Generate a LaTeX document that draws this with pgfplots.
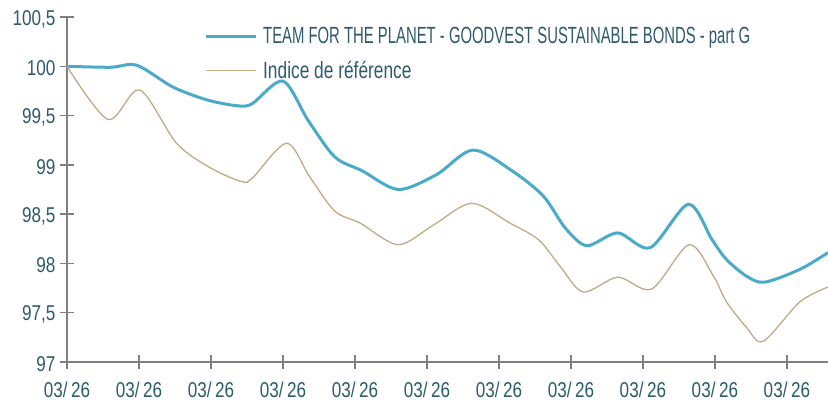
\documentclass[border=0pt]{standalone}
\usepackage{fontspec}
\setmainfont{Liberation Sans}[FakeStretch=0.67]
\newfontfamily\tickfont{Liberation Sans}[FakeStretch=0.8]
\newfontfamily\legA{Liberation Sans}[FakeStretch=0.635]
\newfontfamily\legB{Liberation Sans}[FakeStretch=0.74]
\usepackage{pgfplots}
\pgfplotsset{compat=1.18}
\definecolor{bluel}{RGB}{75,170,200}
\definecolor{tanl}{RGB}{196,168,136}
\definecolor{txt}{RGB}{46,90,110}
\definecolor{axg}{RGB}{128,128,128}
\begin{document}
\begin{tikzpicture}
\path[use as bounding box] (-67bp,-38bp) rectangle (761bp,362bp);
\begin{axis}[
  at={(0,0)}, anchor=south west,
  scale only axis, width=761bp, height=345bp,
  xmin=0, xmax=10.57, ymin=97, ymax=100.5,
  axis x line*=bottom, axis y line*=left,
  axis line style={-, axg, line width=1.5bp},
  tick align=center, major tick length=14bp,
  major tick style={axg, line width=1.5bp},
  xtick={0,1,...,10}, ytick={97,97.5,...,100.5},
  xticklabel={03/\,26},
  /pgf/number format/use comma,
  /pgf/number format/assume math mode=true,
  ticklabel style={font=\tickfont\fontsize{21.5}{25}\selectfont, text=txt},
  yticklabel style={xshift=-1bp, yshift=-2bp},
  xticklabel style={yshift=-9bp},
  clip=false,
  legend style={at={(134bp,339bp)}, anchor=north west, draw=none, fill=none,
    font=\fontsize{23.5}{28}\selectfont, text=txt, row sep=12bp},
  legend cell align=left,
  legend image code/.code={\draw[#1] (0bp,0bp) -- (50bp,0bp); \path (54bp,0bp);},
]
\addplot[bluel, line width=3bp, smooth] coordinates {
(0,100.0) (0.6,99.99) (0.97,100.01) (1.47,99.79) (1.94,99.66) (2.36,99.60) (2.57,99.62) (3.0,99.85) (3.35,99.45) (3.72,99.08) (4.1,98.94) (4.6,98.75) (5.13,98.90) (5.64,99.15) (6.2,98.93) (6.62,98.68) (6.92,98.36) (7.22,98.18) (7.65,98.31) (8.1,98.16) (8.63,98.60) (8.96,98.24) (9.16,98.04) (9.44,97.87) (9.69,97.81) (10.18,97.94) (10.57,98.11)
};
\addlegendentry{{\legA TEAM FOR THE PLANET - GOODVEST SUSTAINABLE BONDS - part G}}
\addplot[tanl, line width=1.3bp, smooth] coordinates {
(0,100.0) (0.57,99.46) (1.01,99.76) (1.52,99.22) (1.99,98.97) (2.43,98.83) (2.58,98.87) (3.05,99.22) (3.37,98.88) (3.72,98.53) (4.07,98.41) (4.6,98.19) (5.09,98.39) (5.62,98.61) (6.15,98.41) (6.55,98.24) (6.85,97.97) (7.17,97.71) (7.65,97.86) (8.12,97.74) (8.64,98.19) (8.98,97.87) (9.16,97.61) (9.44,97.35) (9.67,97.21) (10.18,97.61) (10.57,97.76)
};
\addlegendentry{{\legB Indice de référence}}
\end{axis}
\end{tikzpicture}
\end{document}
